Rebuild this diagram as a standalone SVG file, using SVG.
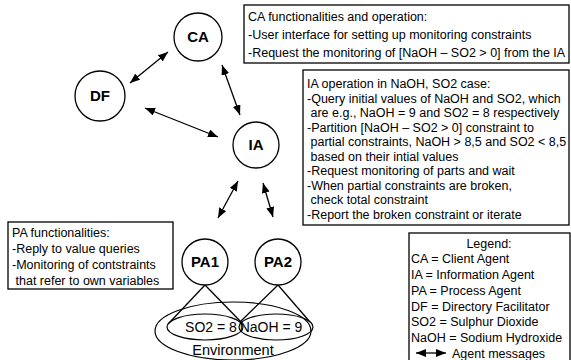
<svg xmlns="http://www.w3.org/2000/svg" width="571" height="360" viewBox="0 0 571 360">
<style>
text{font-family:"Liberation Sans",Arial,sans-serif;fill:#000}
.n{fill:#fff;stroke:#000;stroke-width:1.3}
.lbl{font-size:15px;font-weight:bold;text-anchor:middle}
.t{font-size:12.5px}
.box{fill:#fff;stroke:#000;stroke-width:1.3}
.c{stroke:#000;stroke-width:1.3;fill:none}
.e{fill:none;stroke:#000;stroke-width:1.2}
</style>
<defs>
<marker id="ah" viewBox="0 0 10 8" refX="10" refY="4" markerWidth="10" markerHeight="8" markerUnits="userSpaceOnUse" orient="auto-start-reverse">
<path d="M0,0 L10,4 L0,8 Z" fill="#000"/>
</marker>
</defs>
<rect width="571" height="360" fill="#fff"/>
<g id="connectors">
<line class="c" x1="168" y1="52" x2="130" y2="83" marker-start="url(#ah)" marker-end="url(#ah)"/>
<line class="c" x1="145" y1="108" x2="218" y2="137" marker-start="url(#ah)" marker-end="url(#ah)"/>
<line class="c" x1="222" y1="65" x2="240" y2="115" marker-start="url(#ah)" marker-end="url(#ah)"/>
<line class="c" x1="238" y1="181" x2="218" y2="218" marker-start="url(#ah)" marker-end="url(#ah)"/>
<line class="c" x1="263" y1="183" x2="273" y2="217" marker-start="url(#ah)" marker-end="url(#ah)"/>
<line class="c" x1="205" y1="285" x2="170" y2="322"/>
<line class="c" x1="205" y1="285" x2="241" y2="322"/>
<line class="c" x1="278" y1="285" x2="240" y2="322"/>
<line class="c" x1="278" y1="285" x2="310" y2="322"/>
</g>
<g id="CA"><circle class="n" cx="198" cy="37" r="24"/><text class="lbl" x="198" y="42">CA</text></g>
<g id="DF"><circle class="n" cx="100" cy="96" r="25"/><text class="lbl" x="100" y="101">DF</text></g>
<g id="IA"><circle class="n" cx="256" cy="145" r="23"/><text class="lbl" x="256" y="150">IA</text></g>
<g id="PA1"><circle class="n" cx="205" cy="262" r="23"/><text class="lbl" x="205" y="267">PA1</text></g>
<g id="PA2"><circle class="n" cx="278" cy="262" r="23"/><text class="lbl" x="278" y="267">PA2</text></g>
<g id="environment">
<ellipse class="e" cx="233" cy="331" rx="78" ry="29"/>
<ellipse class="e" cx="205" cy="327" rx="38" ry="13"/>
<ellipse class="e" cx="276" cy="327" rx="37" ry="13"/>
<text x="211" y="332" font-size="14" text-anchor="middle">SO2 = 8</text>
<text x="271" y="332" font-size="14" text-anchor="middle">NaOH = 9</text>
<text x="233" y="355" font-size="14.5" text-anchor="middle">Environment</text>
</g>
<g id="ca-box">
<rect class="box" x="244" y="5" width="325" height="58"/>
<text class="t" x="248" y="21">CA functionalities and operation:</text>
<text class="t" x="248" y="39">-User interface for setting up monitoring constraints</text>
<text class="t" x="248" y="57">-Request the monitoring of [NaOH – SO2 &gt; 0] from the IA</text>
</g>
<g id="ia-box">
<rect class="box" x="303" y="70" width="266" height="155"/>
<text class="t" x="307" y="88">IA operation in NaOH, SO2 case:</text>
<text class="t" x="307" y="102.5">-Query initial values of NaOH and SO2, which</text>
<text class="t" x="310.5" y="117">are e.g., NaOH = 9 and SO2 = 8 respectively</text>
<text class="t" x="307" y="131.5">-Partition [NaOH – SO2 &gt; 0] constraint to</text>
<text class="t" x="310.5" y="146">partial constraints, NaOH &gt; 8,5 and SO2 &lt; 8,5</text>
<text class="t" x="310.5" y="160.5">based on their intial values</text>
<text class="t" x="307" y="175">-Request monitoring of parts and wait</text>
<text class="t" x="307" y="189.5">-When partial constraints are broken,</text>
<text class="t" x="310.5" y="204">check total constraint</text>
<text class="t" x="307" y="218.5">-Report the broken constraint or iterate</text>
</g>
<g id="pa-box">
<rect class="box" x="8" y="222" width="165" height="67"/>
<text class="t" x="12" y="237">PA functionalities:</text>
<text class="t" x="12" y="253">-Reply to value queries</text>
<text class="t" x="12" y="269">-Monitoring of contstraints</text>
<text class="t" x="15.5" y="285">that refer to own variables</text>
</g>
<g id="legend">
<rect class="box" x="409" y="233" width="161" height="134"/>
<text class="t" x="489" y="247.5" text-anchor="middle">Legend:</text>
<text class="t" x="411" y="262.5">CA = Client Agent</text>
<text class="t" x="411" y="278.5">IA = Information Agent</text>
<text class="t" x="411" y="294.5">PA = Process Agent</text>
<text class="t" x="411" y="310.5">DF = Directory Facilitator</text>
<text class="t" x="411" y="326">SO2 = Sulphur Dioxide</text>
<text class="t" x="411" y="342">NaOH = Sodium Hydroxide</text>
<rect x="410" y="344.5" width="159" height="15" fill="#fff"/>
<line class="c" x1="416" y1="353" x2="446" y2="353" marker-start="url(#ah)" marker-end="url(#ah)"/>
<text class="t" x="452" y="357.5">Agent messages</text>
</g>
</svg>
